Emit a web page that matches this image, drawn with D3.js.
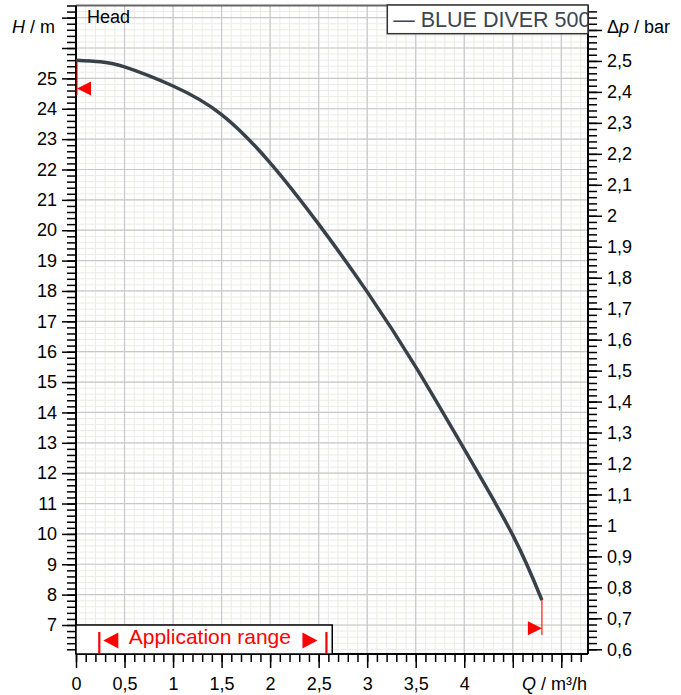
<!DOCTYPE html>
<html>
<head>
<meta charset="utf-8">
<script src="https://cdn.jsdelivr.net/npm/d3@7"></script>
<style>
	body { margin: 0; background: #fff; }
	svg { display: block; font-family: "Liberation Sans", Arial, sans-serif; }
	.axis path { display: none; }
	.axis line { stroke: #000; }
	.axis text { fill: #000; }
</style>
</head>
<body>
<svg id="chart" width="681" height="695"></svg>
<script>
	// pump curve
	var flowQ = [0, 0.25, 0.5, 1, 1.5, 2, 2.5, 3, 3.5, 4, 4.5, 4.8];
	var headH = [25.6, 25.55, 25.38, 24.75, 23.81, 22.22, 20.2, 17.97, 15.5, 12.79, 9.96, 7.82];
	var seriesName = "BLUE DIVER 500";
	var appRange = [0.24, 2.58];
	var appBoxQ = 2.64;
	var startMark = { q: 0, h: 24.67, lineTo: 24.45 };
	var endMark = { q: 4.8, h: 6.89, lineTo: 6.67 };
	var qLabels = [0, 0.5, 1, 1.5, 2, 2.5, 3, 3.5, 4];
	var hLabels = d3.range(7, 26);
	var pLabels = d3.range(6, 26).map(function(d) { return d / 10; });

	var svg = d3.select("#chart");
	var box = { left: 76, right: 588, top: 5.5, bottom: 654 };
	var font = "Liberation Sans, Arial, sans-serif";

	var x = d3.scaleLinear().domain([0, 5.275]).range([box.left, box.right]);
	var y = d3.scaleLinear().domain([6.045, 27.4]).range([box.bottom, box.top]);
	var yp = d3.scaleLinear().domain([0.5848, 2.679]).range([box.bottom, box.top]);

	function comma(v) {
		return String(+v.toFixed(2)).replace(".", ",");
	}
	function rng(a, b, step) {
		var n = Math.floor((b - a) / step + 1e-6);
		return d3.range(n + 1).map(function(i) { return +(a + i * step).toFixed(3); });
	}

	var qMinor = rng(0, 5.2, 0.1), qMajor = rng(0, 5, 0.5);
	var hMinor = rng(6.2, 27.4, 0.2), hMajor = rng(7, 27, 1);
	var pMinor = rng(0.6, 2.66, 0.02), pMajor = rng(0.6, 2.6, 0.1);

	// grid
	var grid = svg.append("g");
	grid.selectAll(".vmin").data(qMinor).enter().append("line")
		.attr("x1", function(d) { return x(d); }).attr("x2", function(d) { return x(d); })
		.attr("y1", box.top).attr("y2", box.bottom)
		.attr("stroke", "#ebebe8").attr("stroke-width", 1);
	grid.selectAll(".hmin").data(hMinor).enter().append("line")
		.attr("y1", function(d) { return y(d); }).attr("y2", function(d) { return y(d); })
		.attr("x1", box.left).attr("x2", box.right)
		.attr("stroke", "#ebebe8").attr("stroke-width", 1);
	grid.selectAll(".vmaj").data(qMajor).enter().append("line")
		.attr("x1", function(d) { return x(d); }).attr("x2", function(d) { return x(d); })
		.attr("y1", box.top).attr("y2", box.bottom)
		.attr("stroke", "#c8c8c8").attr("stroke-width", 1.2);
	grid.selectAll(".hmaj").data(hMajor).enter().append("line")
		.attr("y1", function(d) { return y(d); }).attr("y2", function(d) { return y(d); })
		.attr("x1", box.left).attr("x2", box.right)
		.attr("stroke", "#c8c8c8").attr("stroke-width", 1.2);

	// axes
	function addAxis(axis, transform) {
		var g = svg.append("g").attr("class", "axis").attr("transform", transform).call(axis);
		g.attr("font-size", 18).attr("font-family", font);
		g.selectAll("line").attr("stroke-width", 1.5);
		return g;
	}
	addAxis(d3.axisBottom(x).tickValues(qMinor).tickSize(8).tickFormat(""), "translate(0," + box.bottom + ")");
	addAxis(d3.axisBottom(x).tickValues(qMajor).tickSize(14).tickPadding(9.2)
		.tickFormat(function(d) { return qLabels.indexOf(d) >= 0 ? comma(d) : ""; }), "translate(0," + box.bottom + ")");
	addAxis(d3.axisLeft(y).tickValues(hMinor).tickSize(9).tickFormat(""), "translate(" + box.left + ",0)");
	addAxis(d3.axisLeft(y).tickValues(hMajor).tickSize(14).tickPadding(5)
		.tickFormat(function(d) { return hLabels.indexOf(d) >= 0 ? comma(d) : ""; }), "translate(" + box.left + ",0)");
	addAxis(d3.axisRight(yp).tickValues(pMinor).tickSize(9).tickFormat(""), "translate(" + box.right + ",0)");
	addAxis(d3.axisRight(yp).tickValues(pMajor).tickSize(14).tickPadding(5)
		.tickFormat(function(d) {
			return pLabels.some(function(p) { return Math.abs(p - d) < 1e-6; }) ? comma(d) : "";
		}), "translate(" + box.right + ",0)");

	// frame
	svg.append("line").attr("x1", box.left).attr("x2", box.right).attr("y1", box.top).attr("y2", box.top)
		.attr("stroke", "#666").attr("stroke-width", 2);
	svg.append("line").attr("x1", box.left).attr("x2", box.right).attr("y1", box.bottom).attr("y2", box.bottom)
		.attr("stroke", "#000").attr("stroke-width", 2);
	svg.append("line").attr("x1", box.left).attr("x2", box.left).attr("y1", box.top).attr("y2", box.bottom)
		.attr("stroke", "#000").attr("stroke-width", 2);
	svg.append("line").attr("x1", box.right).attr("x2", box.right).attr("y1", box.top).attr("y2", box.bottom)
		.attr("stroke", "#000").attr("stroke-width", 2);

	// axis titles
	var tH = svg.append("text").attr("x", 55).attr("y", 32.5).attr("text-anchor", "end")
		.attr("font-size", 18);
	tH.append("tspan").attr("font-style", "italic").text("H");
	tH.append("tspan").text(" / m");
	var tP = svg.append("text").attr("x", 607).attr("y", 33).attr("font-size", 18);
	tP.append("tspan").text("\u0394");
	tP.append("tspan").attr("font-style", "italic").text("p");
	tP.append("tspan").text(" / bar");
	var tQ = svg.append("text").attr("x", 587).attr("y", 690).attr("text-anchor", "end")
		.attr("font-size", 18);
	tQ.append("tspan").attr("font-style", "italic").text("Q");
	tQ.append("tspan").text(" / m\u00b3/h");

	svg.append("text").attr("x", 87).attr("y", 23).attr("font-size", 18).text("Head");

	// markers
	var red = "#ff0000";
	svg.append("line")
		.attr("x1", x(startMark.q) + 1).attr("x2", x(startMark.q) + 1)
		.attr("y1", y(headH[0])).attr("y2", y(startMark.lineTo))
		.attr("stroke", red).attr("stroke-width", 1.5).attr("opacity", 0.7);
	svg.append("path")
		.attr("d", "M0,0 L14,-7 L14,7 Z")
		.attr("transform", "translate(" + (x(startMark.q) + 1) + "," + y(startMark.h) + ")")
		.attr("fill", red);
	svg.append("line")
		.attr("x1", x(endMark.q)).attr("x2", x(endMark.q))
		.attr("y1", y(headH[headH.length - 1])).attr("y2", y(endMark.lineTo))
		.attr("stroke", red).attr("stroke-width", 1.5).attr("opacity", 0.7);
	svg.append("path")
		.attr("d", "M0,0 L-14,-7 L-14,7 Z")
		.attr("transform", "translate(" + x(endMark.q) + "," + y(endMark.h) + ")")
		.attr("fill", red);

	// curve
	var line = d3.line()
		.x(function(d) { return x(d[0]); })
		.y(function(d) { return y(d[1]); })
		.curve(d3.curveNatural);
	svg.append("path")
		.attr("d", line(flowQ.map(function(q, i) { return [q, headH[i]]; })))
		.attr("fill", "none").attr("stroke", "#38414a").attr("stroke-width", 3.5);

	// application range box
	var appTop = y(7);
	svg.append("rect")
		.attr("x", x(0)).attr("y", appTop)
		.attr("width", x(appBoxQ) - x(0)).attr("height", box.bottom - appTop)
		.attr("fill", "#fff").attr("stroke", "#000").attr("stroke-width", 1.5);
	appRange.forEach(function(q) {
		svg.append("line")
			.attr("x1", x(q)).attr("x2", x(q))
			.attr("y1", appTop + 7).attr("y2", box.bottom - 1)
			.attr("stroke", red).attr("stroke-width", 2.2);
	});
	var midY = (appTop + box.bottom) / 2 + 1;
	svg.append("path")
		.attr("d", "M0,0 L15,-8 L15,8 Z")
		.attr("transform", "translate(" + (x(appRange[0]) + 4) + "," + midY + ")")
		.attr("fill", red);
	svg.append("path")
		.attr("d", "M0,0 L-15,-8 L-15,8 Z")
		.attr("transform", "translate(" + (x(appRange[1]) - 9) + "," + midY + ")")
		.attr("fill", red);
	svg.append("text")
		.attr("x", (x(appRange[0]) + x(appRange[1])) / 2 - 3).attr("y", 643.5)
		.attr("text-anchor", "middle").attr("font-size", 21).attr("fill", red)
		.text("Application range");

	// legend
	svg.append("clipPath").attr("id", "legclip").append("rect")
		.attr("x", 387.3).attr("y", 5).attr("width", 200.7).attr("height", 29);
	svg.append("rect")
		.attr("x", 387.3).attr("y", 5).attr("width", 200.7).attr("height", 28.7)
		.attr("fill", "#fff").attr("stroke", "#333").attr("stroke-width", 1.5);
	svg.append("text")
		.attr("clip-path", "url(#legclip)")
		.attr("x", 393.3).attr("y", 27)
		.attr("font-size", 21.5).attr("fill", "#3d4550")
		.text("\u2014 " + seriesName);
</script>
</body>
</html>
